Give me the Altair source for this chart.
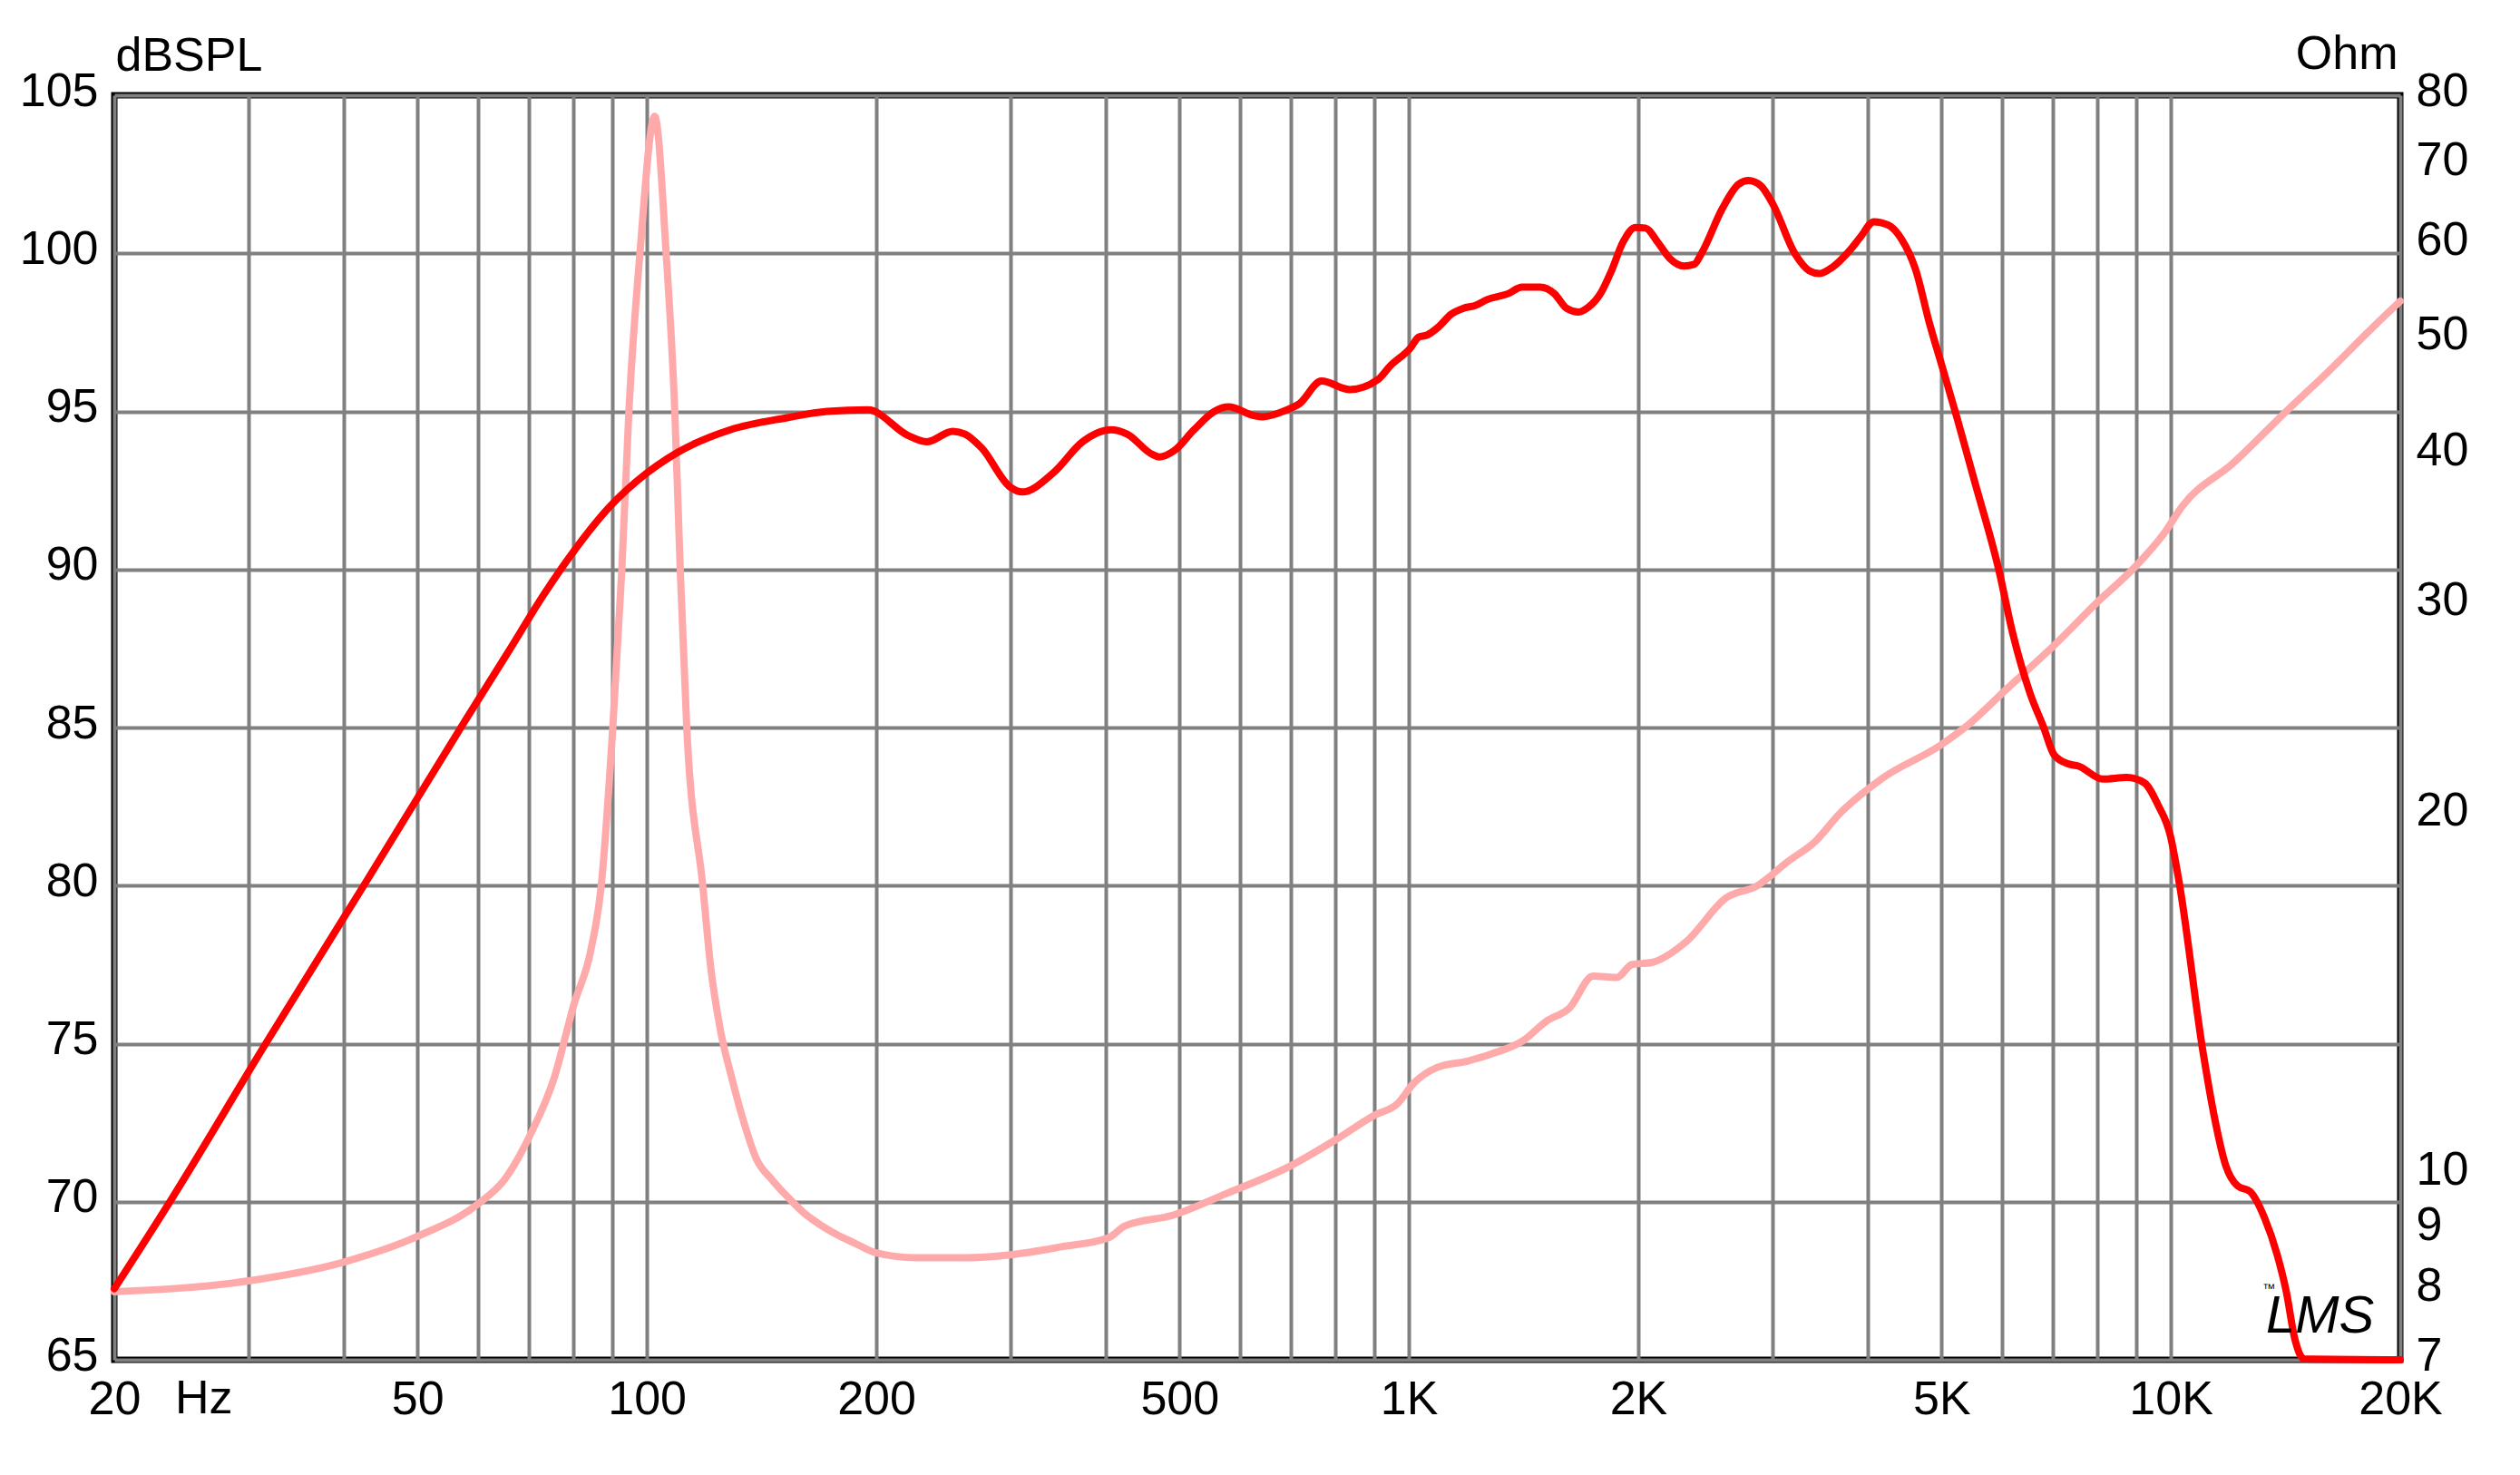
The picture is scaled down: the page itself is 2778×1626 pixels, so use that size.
import altair as alt
import pandas as pd

# ---- SPL curve (Hz, dBSPL) ----
spl_freq = [20, 23.8, 31.6, 42.5, 57.0, 66.0, 73.2, 80.3, 89.1, 100, 109.7, 128.7, 152.7, 172.5, 195,
            220.5, 233, 252, 261.6, 274.8, 300, 310.6, 342, 373, 406, 427, 459.8, 471, 491.6,
            522.5, 555.6, 579.8, 627.9, 643.3, 692, 718, 767.8, 836.5, 911.2, 945.2, 1005, 1030,
            1055.6, 1094.6, 1135.6, 1178, 1222, 1268, 1348.5, 1408, 1487.5, 1552.6, 1610.6, 1670,
            1721.6, 1785.6, 1841.6, 1910.5, 1982, 2043.6, 2119.9, 2199.5, 2295.7, 2368, 2425,
            2579, 2707, 2791, 2895, 3003, 3212, 3353, 3457, 3565, 3813, 3910, 4077, 4252, 4431,
            4622, 4820, 5026, 5239, 5524, 5944, 6198, 6531, 6809, 7028, 7330, 7563, 8139, 8759,
            9229, 9624, 9982, 10243, 11026, 11380, 11805, 12234, 12694, 13282, 13790, 14170,
            14550, 14950, 20000]
spl_db = [67.25, 70.1, 75.0, 80.0, 85.0, 87.45, 89.2, 90.6, 91.95, 93.05, 93.7, 94.42, 94.8, 95.0, 95.05,
          94.23, 94.04, 94.37, 94.28, 93.85, 92.6, 92.45, 93.07, 94.04, 94.42, 94.28, 93.65, 93.56, 93.75,
          94.42, 95.0, 95.14, 94.86, 94.83, 95.05, 95.24, 95.96, 95.69, 96.01, 96.44, 97.01, 97.35,
          97.41, 97.68, 98.07, 98.26, 98.35, 98.54, 98.72, 98.93, 98.93, 98.72, 98.26, 98.14,
          98.30, 98.74, 99.41, 100.36, 100.82, 100.80, 100.36, 99.84, 99.60, 99.65, 100.03,
          101.42, 102.18, 102.30, 102.14, 101.56, 99.98, 99.45, 99.36, 99.50, 100.17, 100.5, 101.0, 100.9, 100.45,
          99.5, 97.8, 96.3, 94.8, 92.8, 90.0, 88.0, 86.1, 85.0, 84.13, 83.85, 83.78, 83.37, 83.42,
          83.25, 82.54, 81.59, 80.17, 74.70, 72.80, 71.14, 70.5, 70.33, 69.47, 68.32, 67.17,
          65.64, 65.03, 65.0]

# ---- Impedance curve (Hz, Ohm) ----
imp_freq = [20, 30, 40, 50, 60, 65, 70.3, 75.6, 80.2, 84.4, 87.1, 90.2, 92.7, 94.7, 97.9, 102.4,
            106.0, 108.8, 110.6, 112.8, 118.4, 121.2, 124.9, 129, 134.4, 139, 146, 153.5, 161, 169.7,
            178, 187, 200, 225.7, 260.9, 300, 349, 404, 424, 490.6, 575.6, 695, 800.6, 901, 967,
            1014, 1088, 1196, 1284, 1411, 1515, 1625, 1745, 1873, 1963, 2083, 2316, 2606, 2863,
            3147, 3417, 3668, 4177, 4985, 5414, 6093, 7018, 7994, 8995, 9813, 10358, 12080,
            14245, 16028, 18474, 20000]
imp_ohm = [7.98, 8.15, 8.45, 8.88, 9.45, 9.9, 10.8, 12.06, 13.88, 15.4, 17.44, 23.66, 32.06, 43.48, 58.93, 76.8,
           58.93, 43.48, 32.06, 23.66, 17.44, 14.96, 13.2, 12.1, 11.0, 10.33, 9.9, 9.56, 9.28, 9.06,
           8.9, 8.77, 8.6, 8.52, 8.52, 8.57, 8.70, 8.86, 9.06, 9.25, 9.64, 10.15, 10.69, 11.21, 11.47,
           11.92, 12.29, 12.45, 12.62, 12.94, 13.44, 13.79, 14.66, 14.62, 14.99, 15.05, 15.68, 17.04, 17.44,
           18.29, 19.01, 20.02, 21.45, 22.87, 23.77, 25.5, 27.7, 30.1, 32.3, 34.45, 36.27, 39.4,
           43.66, 46.86, 51.27, 53.8]

# ---- axes ----
x_grid_values = [20, 30, 40, 50, 60, 70, 80, 90, 100, 200, 300, 400, 500, 600, 700, 800, 900,
                 1000, 2000, 3000, 4000, 5000, 6000, 7000, 8000, 9000, 10000, 20000]
x_label_values = [20, 50, 100, 200, 500, 1000, 2000, 5000, 10000, 20000]
x_label_texts = ["20", "50", "100", "200", "500", "1K", "2K", "5K", "10K", "20K"]
db_ticks = [65, 70, 75, 80, 85, 90, 95, 100, 105]
ohm_ticks = [7, 8, 9, 10, 20, 30, 40, 50, 60, 70, 80]

FONT = "Liberation Sans"
FS = 52
W, H = 2520, 1394
GRID = "#808080"

label_expr = "".join(f"datum.value == {v} ? '{t}' : " for v, t in zip(x_label_values, x_label_texts)) + "''"

spl_df = pd.DataFrame({"freq": spl_freq, "db": spl_db})
imp_df = pd.DataFrame({"freq": imp_freq, "ohm": imp_ohm})

x_scale = alt.Scale(type="log", domain=[20, 20000], nice=False)
x_axis = alt.Axis(values=x_grid_values, labelExpr=label_expr, grid=True, gridColor=GRID,
                  gridWidth=4, gridOpacity=1, domain=False, ticks=False, tickSize=0,
                  labelFont=FONT, labelFontSize=FS, labelColor="black", labelPadding=18,
                  labelBaseline="top", labelFlush=False, labelOverlap=False, title=None)

imp_line = alt.Chart(imp_df).mark_line(color="#ffaaaa", strokeWidth=8, strokeJoin="round",
                                       strokeCap="round", interpolate="monotone").encode(
    x=alt.X("freq:Q", scale=x_scale, axis=x_axis),
    y=alt.Y("ohm:Q", scale=alt.Scale(type="log", domain=[7, 80], nice=False),
            axis=alt.Axis(orient="right", values=ohm_ticks, grid=False, domain=False, ticks=False,
                          tickSize=0, labelFont=FONT, labelFontSize=FS, labelColor="black",
                          labelPadding=17, labelOffset=-5, labelBaseline="middle", labelAlign="left",
                          labelFlush=False, labelOverlap=False,
                          title="Ohm", titleAngle=0, titleAlign="right", titleBaseline="alphabetic",
                          titleX=-3, titleY=-30, titleFont=FONT, titleFontSize=FS,
                          titleFontWeight="normal", titleColor="black")),
    order="freq:Q",
)

spl_line = alt.Chart(spl_df).mark_line(color="#ff0000", strokeWidth=8, strokeJoin="round",
                                       strokeCap="round", interpolate="monotone").encode(
    x=alt.X("freq:Q", scale=x_scale, axis=x_axis),
    y=alt.Y("db:Q", scale=alt.Scale(domain=[65, 105], nice=False, zero=False),
            axis=alt.Axis(orient="left", values=db_ticks, grid=True, gridColor=GRID, gridWidth=4,
                          gridOpacity=1, domain=False, ticks=False, tickSize=0,
                          labelFont=FONT, labelFontSize=FS, labelColor="black", labelPadding=18,
                          labelOffset=-5, labelBaseline="middle", labelAlign="right",
                          labelFlush=False, labelOverlap=False,
                          title="dBSPL", titleAngle=0, titleAlign="left", titleBaseline="alphabetic",
                          titleX=1, titleY=-28, titleFont=FONT, titleFontSize=FS,
                          titleFontWeight="normal", titleColor="black")),
    order="freq:Q",
)

one = pd.DataFrame({"t": [""]})
hz_text = alt.Chart(one).mark_text(text="Hz", font=FONT, fontSize=FS, align="left",
                                   baseline="alphabetic", color="black").encode(
    x=alt.value(67), y=alt.value(H + 59))
logo = alt.Chart(one).mark_text(text="LMS", font=FONT, fontSize=58, fontStyle="italic",
                                align="left", baseline="alphabetic", color="black").encode(
    x=alt.value(W - 148), y=alt.value(H - 30))
tm = alt.Chart(one).mark_text(text="™", font=FONT, fontSize=14, align="left",
                              baseline="alphabetic", color="black").encode(
    x=alt.value(W - 152), y=alt.value(H - 74))

chart = alt.layer(imp_line, spl_line, hz_text, logo, tm).resolve_scale(y="independent").properties(
    width=W, height=H,
    autosize=alt.AutoSizeParams(type="none"),
    padding={"left": 118, "top": 97, "right": 124, "bottom": 102},
    background="white",
).configure_view(stroke="black", strokeWidth=7)

chart.save("out.html", embed_options={"renderer": "svg", "actions": False})
